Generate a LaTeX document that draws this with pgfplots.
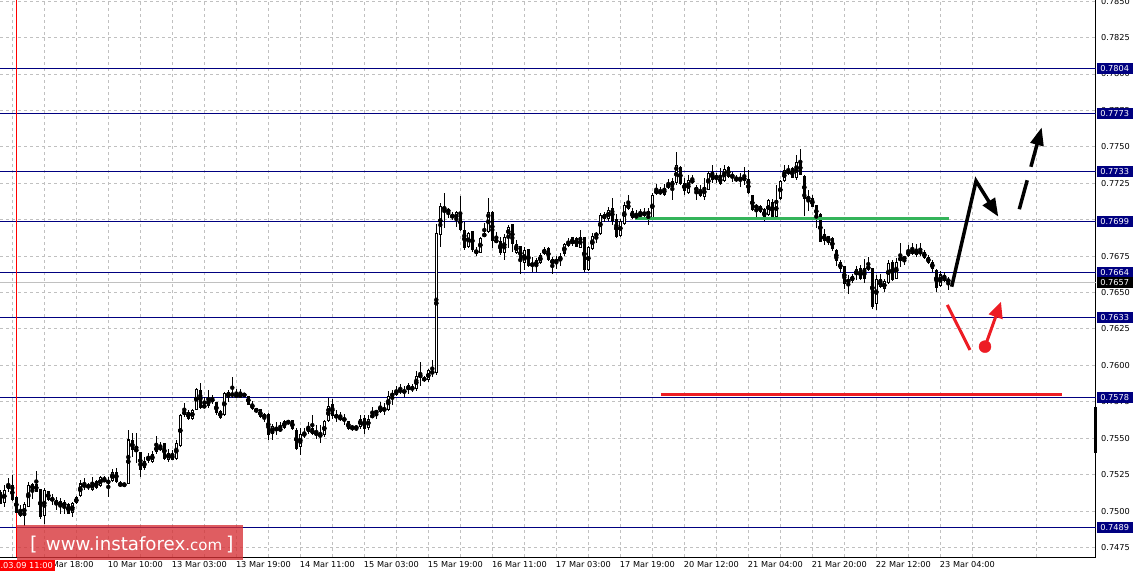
\documentclass[border=0pt]{standalone}
\usepackage{pgfplots}
\pgfplotsset{compat=1.18}
\usepackage{pgfplotstable}
\usepackage{fontspec}
\setmainfont{DejaVu Sans}
\usetikzlibrary{arrows.meta}

\definecolor{navyline}{RGB}{0,0,128}
\definecolor{gridgray}{RGB}{192,192,192}
\definecolor{mtred}{RGB}{237,28,36}
\definecolor{mtgreen}{RGB}{52,180,90}
\definecolor{wmred}{RGB}{214,48,52}

% hourly candles, k = bar index (0 = 03.09 11:00)
\pgfplotstableread{
k o h l c
-4 0.75133 0.75145 0.75048 0.75053
-3 0.75058 0.75179 0.75030 0.75149
-2 0.75154 0.75225 0.75133 0.75186
-1 0.75179 0.75248 0.75071 0.75076
0 0.75099 0.75103 0.74989 0.74991
1 0.75007 0.75042 0.74961 0.74966
2 0.74966 0.75064 0.74897 0.75048
3 0.75030 0.75202 0.75028 0.75179
4 0.75145 0.75195 0.75087 0.75186
5 0.75190 0.75275 0.75133 0.75133
6 0.75149 0.75156 0.74950 0.74961
7 0.74966 0.75163 0.74916 0.75145
8 0.75138 0.75140 0.75071 0.75076
9 0.75087 0.75117 0.75042 0.75076
10 0.75076 0.75099 0.75007 0.75042
11 0.75030 0.75094 0.74984 0.75071
12 0.75062 0.75076 0.74984 0.75030
13 0.75048 0.75053 0.74982 0.74984
14 0.74989 0.75064 0.74961 0.75058
15 0.75053 0.75103 0.75048 0.75094
16 0.75103 0.75213 0.75099 0.75190
17 0.75184 0.75225 0.75149 0.75167
18 0.75167 0.75195 0.75145 0.75172
19 0.75149 0.75236 0.75140 0.75195
20 0.75206 0.75213 0.75156 0.75163
21 0.75172 0.75241 0.75167 0.75232
22 0.75225 0.75241 0.75200 0.75202
23 0.75190 0.75236 0.75099 0.75213
24 0.75206 0.75287 0.75202 0.75271
25 0.75271 0.75293 0.75190 0.75202
26 0.75190 0.75206 0.75167 0.75174
27 0.75181 0.75190 0.75177 0.75180
28 0.75190 0.75557 0.75186 0.75493
29 0.75488 0.75538 0.75374 0.75419
30 0.75429 0.75538 0.75332 0.75408
31 0.75408 0.75410 0.75232 0.75287
32 0.75293 0.75369 0.75282 0.75346
33 0.75369 0.75401 0.75332 0.75351
34 0.75339 0.75413 0.75332 0.75396
35 0.75406 0.75516 0.75396 0.75451
36 0.75447 0.75477 0.75413 0.75419
37 0.75470 0.75472 0.75351 0.75362
38 0.75355 0.75424 0.75339 0.75401
39 0.75396 0.75423 0.75348 0.75350
40 0.75355 0.75490 0.75350 0.75470
41 0.75448 0.75671 0.75442 0.75659
42 0.75664 0.75746 0.75648 0.75687
43 0.75682 0.75693 0.75625 0.75636
44 0.75632 0.75705 0.75625 0.75698
45 0.75698 0.75845 0.75693 0.75842
46 0.75835 0.75877 0.75705 0.75710
47 0.75728 0.75785 0.75705 0.75710
48 0.75723 0.75831 0.75705 0.75769
49 0.75774 0.75801 0.75739 0.75751
50 0.75751 0.75753 0.75659 0.75671
51 0.75687 0.75693 0.75636 0.75641
52 0.75659 0.75819 0.75657 0.75813
53 0.75785 0.75835 0.75751 0.75815
54 0.75808 0.75922 0.75774 0.75792
55 0.75797 0.75842 0.75774 0.75790
56 0.75785 0.75842 0.75774 0.75801
57 0.75808 0.75810 0.75785 0.75790
58 0.75792 0.75794 0.75728 0.75732
59 0.75739 0.75758 0.75693 0.75700
60 0.75705 0.75710 0.75671 0.75682
61 0.75700 0.75702 0.75641 0.75643
62 0.75664 0.75671 0.75613 0.75643
63 0.75666 0.75671 0.75487 0.75526
64 0.75533 0.75602 0.75487 0.75584
65 0.75561 0.75613 0.75522 0.75563
66 0.75568 0.75613 0.75545 0.75552
67 0.75574 0.75625 0.75568 0.75618
68 0.75602 0.75625 0.75600 0.75618
69 0.75625 0.75627 0.75556 0.75563
70 0.75561 0.75568 0.75419 0.75430
71 0.75442 0.75568 0.75384 0.75533
72 0.75515 0.75568 0.75499 0.75538
73 0.75545 0.75613 0.75533 0.75579
74 0.75568 0.75659 0.75522 0.75529
75 0.75538 0.75590 0.75499 0.75524
76 0.75529 0.75590 0.75469 0.75510
77 0.75522 0.75625 0.75510 0.75618
78 0.75620 0.75774 0.75613 0.75723
79 0.75734 0.75773 0.75636 0.75652
80 0.75665 0.75693 0.75613 0.75638
81 0.75643 0.75681 0.75620 0.75633
82 0.75638 0.75670 0.75590 0.75620
83 0.75620 0.75622 0.75555 0.75567
84 0.75565 0.75590 0.75551 0.75583
85 0.75574 0.75583 0.75551 0.75576
86 0.75578 0.75659 0.75567 0.75636
87 0.75643 0.75659 0.75533 0.75567
88 0.75574 0.75659 0.75555 0.75636
89 0.75640 0.75716 0.75636 0.75665
90 0.75681 0.75693 0.75636 0.75683
91 0.75681 0.75750 0.75675 0.75725
92 0.75709 0.75739 0.75659 0.75688
93 0.75693 0.75826 0.75686 0.75791
94 0.75784 0.75830 0.75727 0.75812
95 0.75796 0.75858 0.75789 0.75835
96 0.75826 0.75872 0.75807 0.75828
97 0.75814 0.75858 0.75784 0.75830
98 0.75830 0.75881 0.75807 0.75865
99 0.75855 0.75872 0.75819 0.75830
100 0.75839 0.75963 0.75826 0.75926
101 0.75940 0.76025 0.75858 0.75917
102 0.75904 0.75926 0.75888 0.75906
103 0.75897 0.75972 0.75888 0.75968
104 0.75961 0.76036 0.75922 0.75945
105 0.75949 0.76968 0.75933 0.76907
106 0.76895 0.77113 0.76815 0.77094
107 0.77078 0.77181 0.76941 0.77080
108 0.77074 0.77085 0.77010 0.77049
109 0.77039 0.77055 0.76998 0.77010
110 0.76998 0.77058 0.76952 0.77053
111 0.77039 0.77163 0.76925 0.76929
112 0.76929 0.76987 0.76792 0.76808
113 0.76815 0.76918 0.76804 0.76911
114 0.76923 0.76925 0.76781 0.76792
115 0.76792 0.76815 0.76751 0.76769
116 0.76776 0.76884 0.76769 0.76879
117 0.76884 0.76980 0.76879 0.76907
118 0.76918 0.77147 0.76911 0.77055
119 0.77055 0.77058 0.76804 0.76854
120 0.76861 0.76918 0.76838 0.76849
121 0.76854 0.76884 0.76758 0.76769
122 0.76774 0.76902 0.76723 0.76884
123 0.76884 0.76964 0.76804 0.76952
124 0.76968 0.76970 0.76781 0.76833
125 0.76774 0.76861 0.76769 0.76833
126 0.76820 0.76822 0.76625 0.76723
127 0.76705 0.76815 0.76655 0.76792
128 0.76799 0.76801 0.76673 0.76682
129 0.76705 0.76742 0.76643 0.76682
130 0.76682 0.76735 0.76643 0.76723
131 0.76705 0.76774 0.76700 0.76758
132 0.76765 0.76815 0.76758 0.76797
133 0.76810 0.76812 0.76719 0.76723
134 0.76730 0.76742 0.76625 0.76696
135 0.76717 0.76751 0.76666 0.76719
136 0.76719 0.76774 0.76682 0.76753
137 0.76769 0.76838 0.76751 0.76833
138 0.76822 0.76872 0.76815 0.76854
139 0.76833 0.76884 0.76820 0.76879
140 0.76877 0.76884 0.76813 0.76815
141 0.76808 0.76929 0.76804 0.76884
142 0.76879 0.76884 0.76643 0.76655
143 0.76655 0.76822 0.76650 0.76815
144 0.76797 0.76907 0.76792 0.76888
145 0.76884 0.76918 0.76838 0.76911
146 0.76900 0.77049 0.76895 0.77033
147 0.77039 0.77055 0.76987 0.77003
148 0.77005 0.77085 0.76991 0.77071
149 0.77078 0.77147 0.76964 0.76994
150 0.77003 0.77044 0.76877 0.76879
151 0.76888 0.77003 0.76879 0.76994
152 0.76968 0.77124 0.76964 0.77101
153 0.77113 0.77170 0.77067 0.77071
154 0.77060 0.77078 0.77003 0.77010
155 0.77014 0.77067 0.77003 0.77033
156 0.77044 0.77078 0.77017 0.77026
157 0.77026 0.77078 0.77010 0.77055
158 0.77060 0.77078 0.76964 0.77033
159 0.77013 0.77181 0.77009 0.77169
160 0.77176 0.77245 0.77169 0.77208
161 0.77203 0.77226 0.77169 0.77176
162 0.77169 0.77249 0.77162 0.77220
163 0.77233 0.77277 0.77215 0.77231
164 0.77226 0.77284 0.77139 0.77268
165 0.77249 0.77467 0.77238 0.77375
166 0.77364 0.77368 0.77238 0.77242
167 0.77254 0.77284 0.77169 0.77199
168 0.77185 0.77307 0.77176 0.77272
169 0.77277 0.77307 0.77249 0.77254
170 0.77199 0.77238 0.77139 0.77222
171 0.77208 0.77238 0.77158 0.77165
172 0.77158 0.77284 0.77139 0.77226
173 0.77208 0.77336 0.77203 0.77323
174 0.77329 0.77375 0.77254 0.77272
175 0.77291 0.77318 0.77254 0.77293
176 0.77300 0.77352 0.77238 0.77245
177 0.77265 0.77375 0.77261 0.77352
178 0.77359 0.77368 0.77291 0.77295
179 0.77313 0.77329 0.77261 0.77291
180 0.77277 0.77307 0.77261 0.77279
181 0.77272 0.77323 0.77226 0.77291
182 0.77300 0.77359 0.77238 0.77265
183 0.77277 0.77341 0.77176 0.77181
184 0.77169 0.77171 0.77062 0.77066
185 0.77078 0.77112 0.77020 0.77100
186 0.77094 0.77100 0.77048 0.77055
187 0.77073 0.77078 0.76993 0.77016
188 0.77032 0.77146 0.77025 0.77135
189 0.77123 0.77146 0.77013 0.77020
190 0.77016 0.77238 0.77009 0.77139
191 0.77146 0.77272 0.77139 0.77265
192 0.77265 0.77375 0.77261 0.77341
193 0.77318 0.77375 0.77307 0.77336
194 0.77352 0.77364 0.77284 0.77288
195 0.77284 0.77444 0.77272 0.77394
196 0.77403 0.77490 0.77307 0.77311
197 0.77300 0.77307 0.77027 0.77146
198 0.77158 0.77203 0.77062 0.77139
199 0.77147 0.77170 0.77085 0.77090
200 0.77101 0.77103 0.76941 0.77017
201 0.77044 0.77049 0.76847 0.76849
202 0.76854 0.76934 0.76826 0.76900
203 0.76888 0.76890 0.76826 0.76842
204 0.76872 0.76884 0.76788 0.76797
205 0.76792 0.76797 0.76682 0.76719
206 0.76712 0.76723 0.76643 0.76659
207 0.76682 0.76684 0.76529 0.76559
208 0.76568 0.76620 0.76494 0.76591
209 0.76581 0.76627 0.76563 0.76613
210 0.76620 0.76682 0.76586 0.76659
211 0.76666 0.76689 0.76586 0.76591
212 0.76666 0.76728 0.76568 0.76591
213 0.76659 0.76742 0.76650 0.76682
214 0.76666 0.76668 0.76391 0.76403
215 0.76421 0.76620 0.76380 0.76591
216 0.76536 0.76627 0.76529 0.76591
217 0.76522 0.76597 0.76506 0.76579
218 0.76568 0.76723 0.76563 0.76705
219 0.76712 0.76723 0.76581 0.76586
220 0.76595 0.76735 0.76591 0.76712
221 0.76719 0.76838 0.76673 0.76742
222 0.76728 0.76755 0.76689 0.76746
223 0.76751 0.76826 0.76742 0.76792
224 0.76804 0.76842 0.76758 0.76765
225 0.76792 0.76833 0.76746 0.76758
226 0.76765 0.76838 0.76751 0.76788
227 0.76781 0.76792 0.76728 0.76735
228 0.76746 0.76758 0.76696 0.76700
229 0.76712 0.76723 0.76643 0.76666
230 0.76659 0.76666 0.76506 0.76536
231 0.76545 0.76650 0.76540 0.76625
232 0.76620 0.76643 0.76575 0.76579
233 0.76595 0.76609 0.76517 0.76572
}\candles

\begin{document}
\begin{tikzpicture}
\begin{axis}[
  at={(0pt,19pt)}, anchor=south west,
  scale only axis, width=1096pt, height=557pt,
  xmin=-4.075, xmax=269.925,
  ymin=0.74685, ymax=0.78508,
  axis x line*=bottom, axis y line*=right,
  axis line style={-, black, line width=1pt},
  clip=false,
  xtick={7,23,...,231},
  minor xtick={-1,15,...,263},
  xticklabels={9 Mar 18:00,10 Mar 10:00,13 Mar 03:00,13 Mar 19:00,14 Mar 11:00,15 Mar 03:00,15 Mar 19:00,16 Mar 11:00,17 Mar 03:00,17 Mar 19:00,20 Mar 12:00,21 Mar 04:00,21 Mar 20:00,22 Mar 12:00,23 Mar 04:00},
  ytick={0.7475,0.75,0.7525,0.755,0.7575,0.76,0.7625,0.765,0.7675,0.77,0.7725,0.775,0.7775,0.78,0.7825,0.785},
  yticklabels={0.7475,0.7500,0.7525,0.7550,0.7575,0.7600,0.7625,0.7650,0.7675,0.7700,0.7725,0.7750,0.7775,0.7800,0.7825,0.7850},
  major tick length=0pt, minor tick length=0pt,
  tick label style={font=\fontsize{8.2}{9}\selectfont, black},
  xticklabel style={anchor=north west, inner sep=0pt, xshift=-0.5pt, yshift=-4pt},
  yticklabel style={anchor=west, inner sep=0pt, xshift=5pt},
  grid=both,
  major grid style={gridgray, line width=1pt, dash pattern=on 3pt off 3pt},
  minor grid style={gridgray, line width=1pt, dash pattern=on 3pt off 3pt},
]
% level lines
\addplot[navyline, line width=1pt] coordinates {(-4.075,0.7804) (269.925,0.7804)};
\addplot[navyline, line width=1pt] coordinates {(-4.075,0.7773) (269.925,0.7773)};
\addplot[navyline, line width=1pt] coordinates {(-4.075,0.7733) (269.925,0.7733)};
\addplot[navyline, line width=1pt] coordinates {(-4.075,0.7699) (269.925,0.7699)};
\addplot[navyline, line width=1pt] coordinates {(-4.075,0.7664) (269.925,0.7664)};
\addplot[gridgray, line width=1pt] coordinates {(-4.075,0.7657) (269.925,0.7657)};
\addplot[navyline, line width=1pt] coordinates {(-4.075,0.7633) (269.925,0.7633)};
\addplot[navyline, line width=1pt] coordinates {(-4.075,0.7578) (269.925,0.7578)};
\addplot[navyline, line width=1pt] coordinates {(-4.075,0.7489) (269.925,0.7489)};
\addplot[red, line width=1pt] coordinates {(0,0.74685) (0,0.78508)};

% candles: wick, body outline, white inside of rising bars
\addplot[only marks, mark=none, error bars/.cd, y dir=both, y explicit, error mark=none,
  error bar style={black, line width=1pt}]
  table[x=k, y expr=(\thisrow{h}+\thisrow{l})/2, y error expr=(\thisrow{h}-\thisrow{l})/2] {\candles};
\addplot[only marks, mark=none, error bars/.cd, y dir=both, y explicit, error mark=none,
  error bar style={black, line width=3.2pt}]
  table[x=k, y expr=(\thisrow{o}+\thisrow{c})/2, y error expr={max(abs(\thisrow{c}-\thisrow{o})/2,0.000035)}] {\candles};
\addplot[only marks, mark=none, error bars/.cd, y dir=both, y explicit, error mark=none,
  error bar style={white, line width=1.2pt}]
  table[x=k, y expr=(\thisrow{o}+\thisrow{c})/2, y error expr={max((\thisrow{c}-\thisrow{o})/2-0.00007,0)}] {\candles};

% drawn forecast
\addplot[mtgreen, line width=3pt] coordinates {(154.7,0.77008) (233.2,0.77008)};
\addplot[mtred, line width=3pt] coordinates {(161.2,0.75797) (261.5,0.75797)};
\addplot[black, line width=3.5pt, -{Triangle[length=18pt,width=14pt]}]
  coordinates {(233.85,0.76540) (239.93,0.77266) (245.5,0.77021)};
\addplot[black, line width=3.5pt, dash pattern=on 30pt off 14pt on 200pt, -{Triangle[length=18pt,width=13pt]}]
  coordinates {(250.75,0.77072) (256.35,0.77634)};
\addplot[mtred, line width=3pt] coordinates {(232.75,0.76415) (238.43,0.76106)};
\addplot[mtred, line width=3pt, -{Triangle[length=16pt,width=14pt]}]
  coordinates {(242.18,0.76129) (246.18,0.76437)};
\addplot[only marks, mark=*, mark size=6pt, mtred, mark options={draw=mtred, fill=mtred}]
  coordinates {(242.18,0.76129)};
\draw[black, line width=3pt] (axis cs:269.75,0.75715) -- (axis cs:269.75,0.75399);

\coordinate (p1) at (axis cs:269.925,0.7804);
\coordinate (p2) at (axis cs:269.925,0.7773);
\coordinate (p3) at (axis cs:269.925,0.7733);
\coordinate (p4) at (axis cs:269.925,0.7699);
\coordinate (p5) at (axis cs:269.925,0.7664);
\coordinate (p6) at (axis cs:269.925,0.7657);
\coordinate (p7) at (axis cs:269.925,0.7633);
\coordinate (p8) at (axis cs:269.925,0.7578);
\coordinate (p9) at (axis cs:269.925,0.7489);
\coordinate (r0) at (axis cs:0,0.74685);
\end{axis}

\tikzset{pbox/.style={fill=navyline, text=white, anchor=west, minimum width=36pt,
  minimum height=11pt, inner sep=0pt, font=\fontsize{8.2}{9}\selectfont}}
\node[pbox] at ([xshift=0.5pt]p1) {0.7804};
\node[pbox] at ([xshift=0.5pt]p2) {0.7773};
\node[pbox] at ([xshift=0.5pt]p3) {0.7733};
\node[pbox] at ([xshift=0.5pt]p4) {0.7699};
\node[pbox] at ([xshift=0.5pt]p5) {0.7664};
\node[pbox, fill=black] at ([xshift=0.5pt]p6) {0.7657};
\node[pbox] at ([xshift=0.5pt]p7) {0.7633};
\node[pbox] at ([xshift=0.5pt]p8) {0.7578};
\node[pbox] at ([xshift=0.5pt]p9) {0.7489};
\node[fill=red, text=white, anchor=north, inner sep=0pt, minimum width=77pt, minimum height=11pt,
  font=\fontsize{8.2}{9}\selectfont] at ([yshift=-3pt]r0) {2017.03.09 11:00};

% watermark
\fill[wmred, opacity=0.78] (16.7pt,16pt) rectangle (243pt,51pt);
\node[anchor=base west, inner sep=0pt, text=white, font=\fontsize{19}{20}\selectfont] at (30pt,26pt) {[};
\node[anchor=base west, inner sep=0pt, text=white] at (45.7pt,26pt)
  {\fontsize{18.2}{20}\selectfont www.instaforex\fontsize{15}{16}\selectfont .com};
\node[anchor=base west, inner sep=0pt, text=white, font=\fontsize{19}{20}\selectfont] at (226pt,26pt) {]};

\pgfresetboundingbox
\path[use as bounding box] (0pt,0pt) rectangle (1137pt,576pt);
\end{tikzpicture}
\end{document}
